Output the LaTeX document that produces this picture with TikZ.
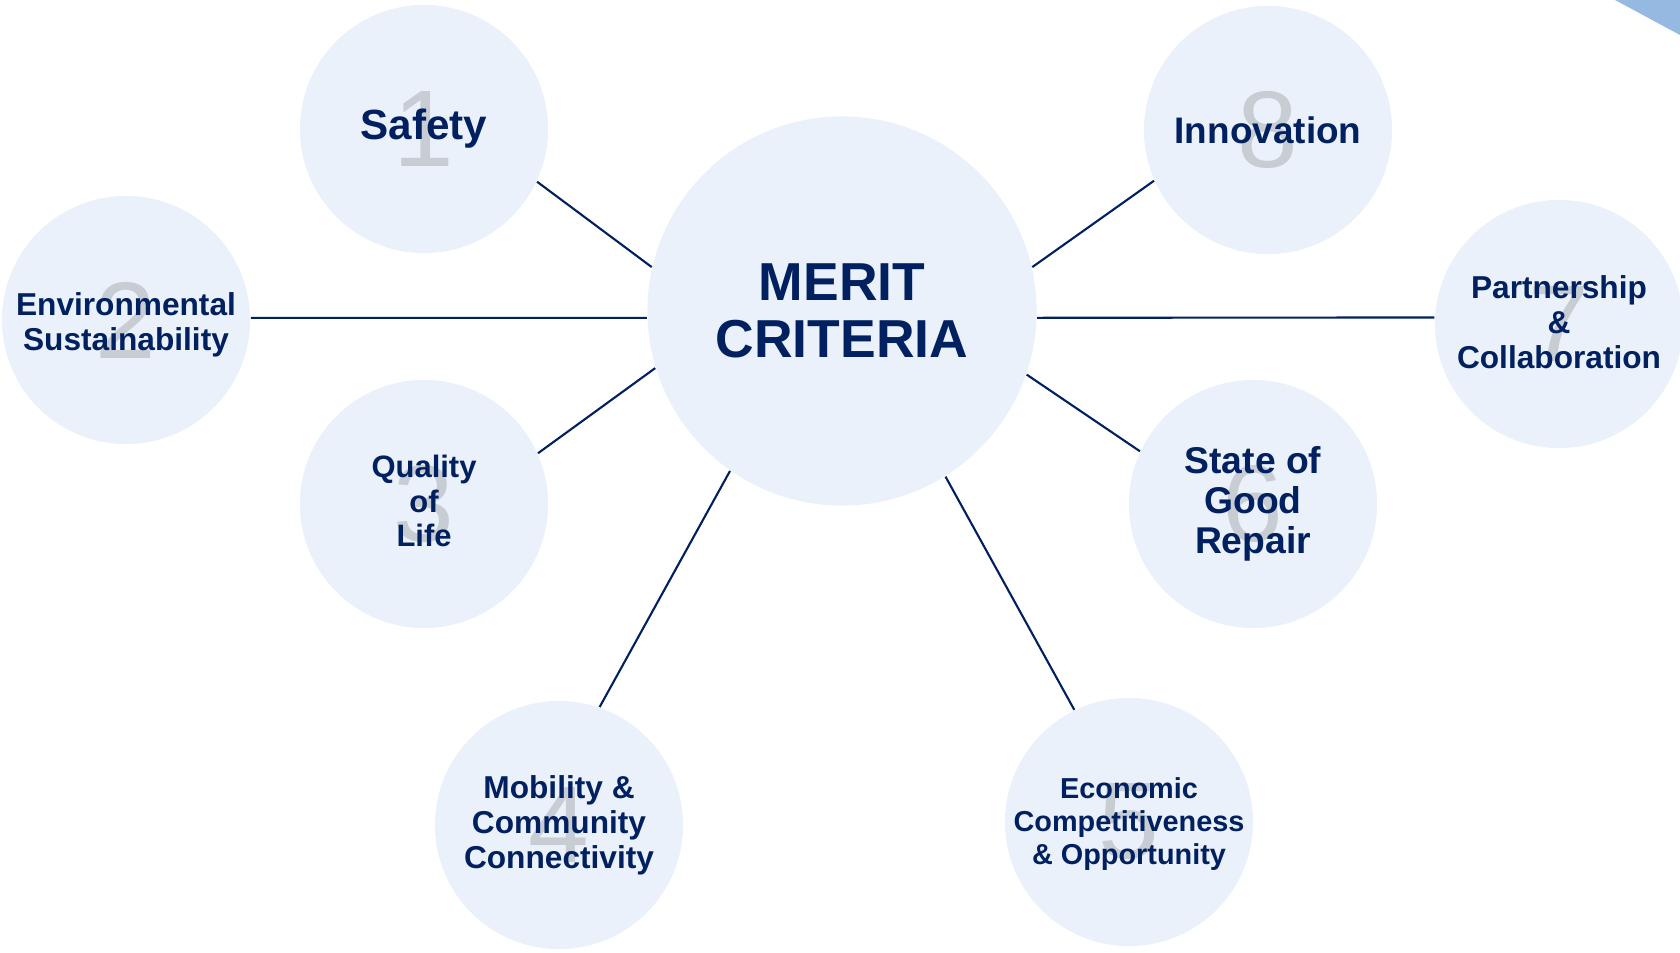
\documentclass[tikz,border=0pt]{standalone}
\usepackage{fontspec}
\setmainfont{Liberation Sans}
\usepackage{xcolor}
\definecolor{BubbleBlue}{RGB}{234,241,250}
\definecolor{NavyText}{RGB}{0,32,96}
\definecolor{DigitGray}{RGB}{200,205,212}
\definecolor{CornerBlue}{RGB}{149,185,225}
\usetikzlibrary{positioning}

\begin{document}
\begin{tikzpicture}[
    x = 0.01cm, y = -0.01cm
    , bubble/.style = {
      , circle
      , minimum size = 2.48cm
      , inner sep = 0pt
      , fill = BubbleBlue
      , text = DigitGray
      , font = \fontsize{31}{31}\selectfont
    }
    , hub/.style = {
      bubble,
      minimum size = 3.89cm
    }
    , title/.style = {
      , text = NavyText
      , align = center
      , inner sep = 0pt
      , font = \fontsize{9}{10}\selectfont\bfseries
    }
    , link/.style = {
      , draw = NavyText
      , line width = 0.6pt
    }
    ]
    \useasboundingbox (0,0) rectangle (1680,952);
    \fill[CornerBlue] (1615,0) -- (1680,0) -- (1680,35) -- cycle;

    % bubbles with their numbers
    \node[hub] (merit) at (842,311) {};
    \node[bubble] (safety) at (424,129) {1};
    \node[bubble] (env) at (126,320) {2};
    \node[bubble] (quality) at (424,504) {3};
    \node[bubble] (mobility) at (559,825) {4};
    \node[bubble] (economic) at (1129,822) {5};
    \node[bubble] (repair) at (1253,504) {6};
    \node[bubble] (partner) at (1559,324) {7};
    \node[bubble] (innov) at (1268,130) {8};

    % titles on top
    \node[title, font=\fontsize{15.2}{16.4}\selectfont\bfseries] (merit-txt) at (merit) {MERIT\\CRITERIA};
    \node[title, font=\fontsize{12}{13}\selectfont\bfseries] (safety-txt) at (safety) {Safety};
    \node[title, font=\fontsize{9}{10}\selectfont\bfseries, yshift=-0.05cm] (env-txt) at (env) {Environmental\\Sustainability};
    \node[title, font=\fontsize{8.8}{9.8}\selectfont\bfseries, yshift=0.03cm] (quality-txt) at (quality) {Quality\\of\\Life};
    \node[title] (mobility-txt) at (mobility) {Mobility \&\\Community\\Connectivity};
    \node[title, font=\fontsize{8.2}{9.5}\selectfont\bfseries, yshift=-0.02cm] (economic-txt) at (economic) {Economic\\Competitiveness\\\& Opportunity};
    \node[title, font=\fontsize{10.6}{11.3}\selectfont\bfseries] (repair-txt) at (repair) {State of\\Good\\Repair};
    \node[title, yshift=0.02cm] (partner-txt) at (partner) {Partnership\\\&\\Collaboration};
    \node[title, font=\fontsize{10.5}{11.5}\selectfont\bfseries] (innov-txt) at (innov) {Innovation};

    \draw[link] (safety.-25) -- (merit.167.6);
    \draw[link] (env.1.4) -- (merit.182);
    \draw[link] (quality.24.7) -- (merit.197.9);
    \draw[link] (mobility.71.3) -- (merit.235.3);
    \draw[link] (economic.116.4) -- (merit.302.7);
    \draw[link] (repair.155.1) -- (merit.-19.1);
    \draw[link] (partner.177.3) -- (merit.-2.2);
    \draw[link] (innov.204) -- (merit.13.1);
  \end{tikzpicture}
\end{document}
